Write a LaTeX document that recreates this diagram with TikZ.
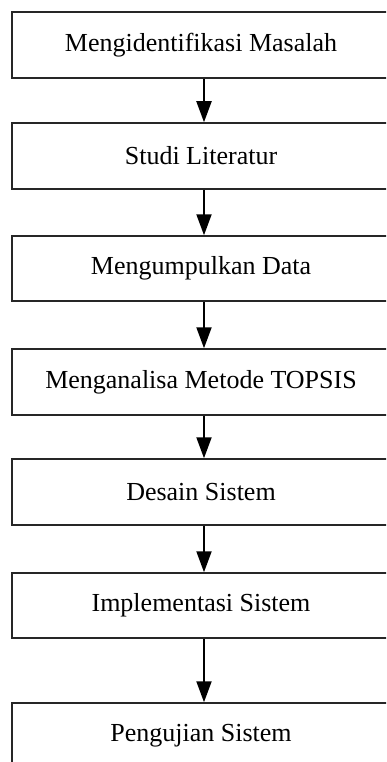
\documentclass[tikz,border=0pt]{standalone}
\usepackage{fontspec}
\setmainfont{Liberation Serif}
\usetikzlibrary{arrows.meta}
\begin{document}
\begin{tikzpicture}[x=1pt,y=1pt,
  stepbox/.style={draw=black!85, line width=1.5pt, rectangle, minimum width=378pt, inner sep=0pt, font=\fontsize{26}{31}\selectfont},
  flow/.style={line width=2pt, -{Triangle[width=15pt,length=21pt]}}]
\useasboundingbox (0,0) rectangle (386,-762);
\clip (0,0) rectangle (386,-762);
\node[stepbox, minimum height=66pt] (s1) at (201,-45) {Mengidentifikasi Masalah};
\node[stepbox, minimum height=66pt] (s2) at (201,-156) {Studi Literatur};
\node[stepbox, minimum height=65pt] (s3) at (201,-268.5) {Mengumpulkan Data};
\node[stepbox, minimum height=66pt] (s4) at (201,-382) {Menganalisa Metode TOPSIS};
\node[stepbox, minimum height=66pt] (s5) at (201,-492) {Desain Sistem};
\node[stepbox, minimum height=65pt] (s6) at (201,-605.5) {Implementasi Sistem};
\node[stepbox, minimum height=66pt] (s7) at (201,-736) {Pengujian Sistem};
\draw[flow] ([xshift=3pt]s1.south) -- ([xshift=3pt]s2.north);
\draw[flow] ([xshift=3pt]s2.south) -- ([xshift=3pt]s3.north);
\draw[flow] ([xshift=3pt]s3.south) -- ([xshift=3pt]s4.north);
\draw[flow] ([xshift=3pt]s4.south) -- ([xshift=3pt]s5.north);
\draw[flow] ([xshift=3pt]s5.south) -- ([xshift=3pt]s6.north);
\draw[flow] ([xshift=3pt]s6.south) -- ([xshift=3pt]s7.north);
\end{tikzpicture}
\end{document}
